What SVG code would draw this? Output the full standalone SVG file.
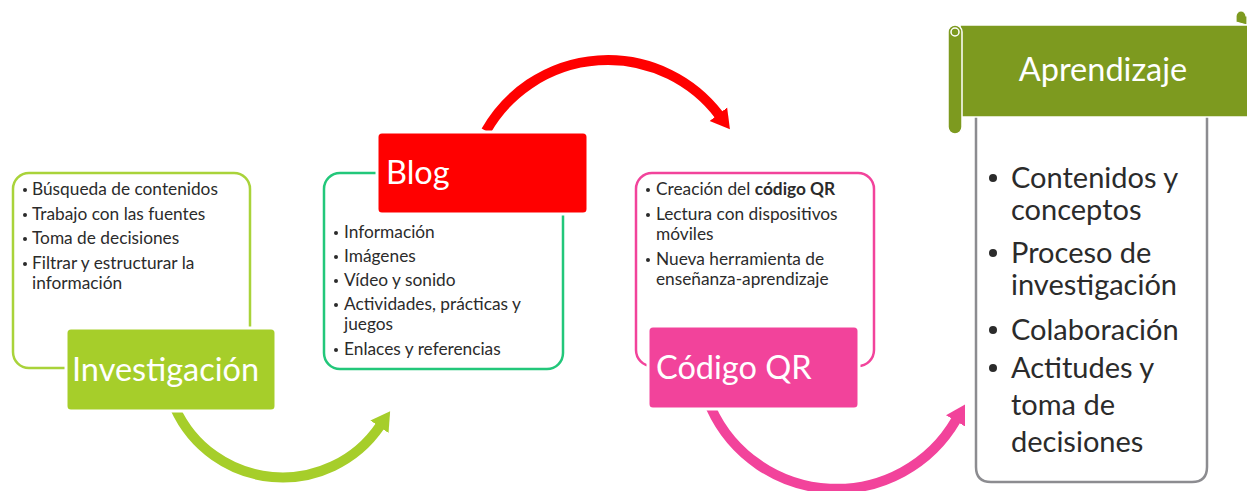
<svg xmlns="http://www.w3.org/2000/svg" width="1247" height="491" viewBox="0 0 1247 491">
<style>
  .lst { font-family: Lato, "Open Sans", sans-serif; font-size: 17.3px; fill: #2b2b2b; }
  .big { font-family: Lato, "Open Sans", sans-serif; font-size: 29px; fill: #2b2b2b; }
  .ttl { font-family: Lato, "Open Sans", sans-serif; font-size: 32.5px; fill: #ffffff; }
  .bul { fill: #2b2b2b; }
  .arc { fill: none; stroke-width: 10; stroke-linecap: butt; }
  .lbl { stroke: #ffffff; stroke-width: 3; }
  .out { fill: none; stroke-width: 2.5; }
</style>
<defs>
  <marker id="ah-green" markerUnits="userSpaceOnUse" markerWidth="20" markerHeight="24" viewBox="0 -12 20 24" refX="1" refY="0" orient="auto"><path d="M0,-11 L19,0 L0,11 z" fill="#A6CE2A"/></marker>
  <marker id="ah-red" markerUnits="userSpaceOnUse" markerWidth="20" markerHeight="24" viewBox="0 -12 20 24" refX="1" refY="0" orient="auto"><path d="M0,-11 L19,0 L0,11 z" fill="#FF0000"/></marker>
  <marker id="ah-pink" markerUnits="userSpaceOnUse" markerWidth="20" markerHeight="24" viewBox="0 -12 20 24" refX="1" refY="0" orient="auto"><path d="M0,-11 L19,0 L0,11 z" fill="#F2439B"/></marker>
</defs>
<rect width="1247" height="491" fill="#ffffff"/>

<g id="connectors">
  <path class="arc" stroke="#A6CE2A" d="M175,408 A118,118 0 0 0 380,426" marker-end="url(#ah-green)"/>
  <path class="arc" stroke="#FF0000" d="M486,131 A140,140 0 0 1 719,115" marker-end="url(#ah-red)"/>
  <path class="arc" stroke="#F2439B" d="M711,408 A138,138 0 0 0 956,420" marker-end="url(#ah-pink)"/>
</g>

<g id="investigacion">
  <rect class="out" x="13" y="173" width="237" height="195" rx="16" stroke="#A9D33A"/>
  <g class="bul">
    <circle cx="25" cy="190" r="2"/><circle cx="25" cy="215" r="2"/><circle cx="25" cy="239" r="2"/><circle cx="25" cy="264" r="2"/>
  </g>
  <text class="lst" x="32" y="195">Búsqueda de contenidos</text>
  <text class="lst" x="32" y="220">Trabajo con las fuentes</text>
  <text class="lst" x="32" y="244">Toma de decisiones</text>
  <text class="lst" x="32" y="269">Filtrar y estructurar la</text>
  <text class="lst" x="32" y="289">información</text>
  <rect class="lbl" x="66" y="328" width="210" height="83" rx="5" fill="#A6CE2A"/>
  <text class="ttl" x="72" y="381">Investigación</text>
</g>

<g id="blog">
  <rect class="out" x="324" y="173" width="239" height="196" rx="16" stroke="#22C77A"/>
  <g class="bul">
    <circle cx="336" cy="233" r="2"/><circle cx="336" cy="257" r="2"/><circle cx="336" cy="281" r="2"/><circle cx="336" cy="305" r="2"/><circle cx="336" cy="350" r="2"/>
  </g>
  <text class="lst" x="344" y="238">Información</text>
  <text class="lst" x="344" y="262">Imágenes</text>
  <text class="lst" x="344" y="286">Vídeo y sonido</text>
  <text class="lst" x="344" y="310">Actividades, prácticas y</text>
  <text class="lst" x="344" y="330">juegos</text>
  <text class="lst" x="344" y="355">Enlaces y referencias</text>
  <rect class="lbl" x="377" y="132" width="211" height="82" rx="5" fill="#FF0000"/>
  <text class="ttl" x="386" y="184">Blog</text>
</g>

<g id="codigo-qr">
  <rect class="out" x="636" y="173" width="238" height="193" rx="16" stroke="#F2439B"/>
  <g class="bul">
    <circle cx="648" cy="190" r="2"/><circle cx="648" cy="215" r="2"/><circle cx="648" cy="260" r="2"/>
  </g>
  <text class="lst" x="656" y="195">Creación del <tspan font-weight="bold">código QR</tspan></text>
  <text class="lst" x="656" y="220">Lectura con dispositivos</text>
  <text class="lst" x="656" y="240">móviles</text>
  <text class="lst" x="656" y="265">Nueva herramienta de</text>
  <text class="lst" x="656" y="285">enseñanza-aprendizaje</text>
  <rect class="lbl" x="648" y="326" width="211" height="83" rx="5" fill="#F2439B"/>
  <text class="ttl" x="656" y="379">Código QR</text>
</g>

<g id="aprendizaje">
  <path d="M976,116 L976,467 Q976,482 991,482 L1192,482 Q1207,482 1207,467 L1207,116" fill="#ffffff" stroke="#8C8C90" stroke-width="2.5"/>
  <g class="bul">
    <circle cx="993" cy="178" r="4"/><circle cx="993" cy="253" r="4"/><circle cx="993" cy="330" r="4"/><circle cx="993" cy="368" r="4"/>
  </g>
  <text class="big" x="1011" y="188">Contenidos y</text>
  <text class="big" x="1011" y="220">conceptos</text>
  <text class="big" x="1011" y="263">Proceso de</text>
  <text class="big" x="1011" y="295">investigación</text>
  <text class="big" x="1011" y="340">Colaboración</text>
  <text class="big" x="1011" y="378">Actitudes y</text>
  <text class="big" x="1011" y="415">toma de</text>
  <text class="big" x="1011" y="452">decisiones</text>
  <path d="M1236,22 L1236,16 A5,5 0 0 1 1246,16 L1247,16 L1247,25 Z" fill="#7D9A1F" stroke="#ffffff" stroke-width="1.2"/>
  <rect x="960" y="25" width="290" height="92" fill="#7D9A1F" stroke="#ffffff" stroke-width="1.5"/>
  <path d="M948,32 A7,7 0 0 1 962,32 L962,127 A7,7 0 0 1 948,127 Z" fill="#7D9A1F" stroke="#ffffff" stroke-width="1.5"/>
  <circle cx="955" cy="32" r="4" fill="#7D9A1F" stroke="#ffffff" stroke-width="1.5"/>
  <text class="ttl" x="1103" y="81" text-anchor="middle">Aprendizaje</text>
</g>
</svg>
